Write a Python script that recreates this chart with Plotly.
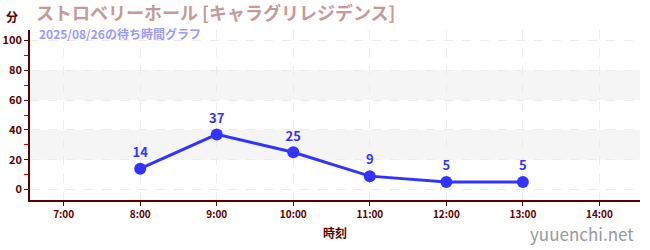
import plotly.graph_objects as go

hours = [8, 9, 10, 11, 12, 13]
waits = [14, 37, 25, 9, 5, 5]
tick_vals = [7, 8, 9, 10, 11, 12, 13, 14]
tick_text = ["7:00", "8:00", "9:00", "10:00", "11:00", "12:00", "13:00", "14:00"]
title_text = "ストロベリーホール [キャラグリレジデンス]"
subtitle_text = "2025/08/26の待ち時間グラフ"
band_ranges = [(20, 40), (60, 80)]

FONT = "Noto Sans CJK JP"
AXC = "#5a0000"

fig = go.Figure()
for y0, y1 in band_ranges:
    fig.add_hrect(y0=y0, y1=y1, fillcolor="#f5f5f5", line_width=0, layer="below")

fig.add_trace(go.Scatter(
    x=hours, y=waits, mode="lines+markers+text",
    line=dict(color="#3333ff", width=3),
    marker=dict(color="#3333ff", size=12),
    text=[str(v) for v in waits], textposition="top center",
    textfont=dict(color="#3333ff", size=13, family=FONT, weight="bold"),
    cliponaxis=False, hoverinfo="skip",
))

fig.update_layout(
    width=650, height=250,
    margin=dict(l=30, r=10, t=30, b=50, autoexpand=False),
    paper_bgcolor="white", plot_bgcolor="white",
    showlegend=False,
    font=dict(family=FONT, color=AXC),
    xaxis=dict(
        range=[6.56, 14.53], tickvals=tick_vals, ticktext=tick_text,
        showline=True, linecolor=AXC, linewidth=1.5, mirror=False,
        ticks="outside", ticklen=4, tickcolor=AXC,
        tickfont=dict(size=10, color=AXC, family=FONT, weight="bold"),
        showgrid=True, gridcolor="#ececec", griddash="dash", gridwidth=1,
        zeroline=False, automargin=False,
        title=dict(text="時刻", font=dict(size=12, color=AXC, family=FONT, weight="bold"), standoff=10),
    ),
    yaxis=dict(
        range=[-7, 107], tickvals=[0, 20, 40, 60, 80, 100],
        showline=True, linecolor=AXC, linewidth=1.5,
        ticks="outside", ticklen=4, tickcolor=AXC,
        tickfont=dict(size=11, color=AXC, family=FONT, weight="bold"),
        showgrid=True, gridcolor="#ececec", griddash="dash", gridwidth=1,
        zeroline=False, automargin=False,
        minor=dict(tickvals=[10, 30, 50, 70, 90], ticks="outside", ticklen=4,
                   tickcolor="#dd0000", showgrid=False),
    ),
)

fig.add_annotation(text="分", xref="paper", yref="paper", x=-0.03, y=1.0,
                   xanchor="center", yanchor="bottom", yshift=3, showarrow=False,
                   font=dict(size=12, color=AXC, family=FONT, weight="bold"))
fig.add_annotation(text=title_text, xref="paper", yref="paper", x=0.0, y=1.0,
                   xanchor="left", yanchor="bottom", yshift=3, xshift=4, showarrow=False,
                   font=dict(size=18, color="#c49a9a", family=FONT, weight="bold"))
fig.add_annotation(text=subtitle_text, xref="paper", yref="paper", x=0.0, y=1.0,
                   xanchor="left", yanchor="top", yshift=7, xshift=7, showarrow=False,
                   font=dict(size=12, color="#9999ff", family=FONT, weight="bold"))
fig.add_annotation(text="yuuenchi.net", xref="paper", yref="paper", x=1.0, y=0.0,
                   xanchor="right", yanchor="top", yshift=-19, xshift=-4, showarrow=False,
                   font=dict(size=17, color="#999999", family=FONT))

fig.write_html("out.html")
